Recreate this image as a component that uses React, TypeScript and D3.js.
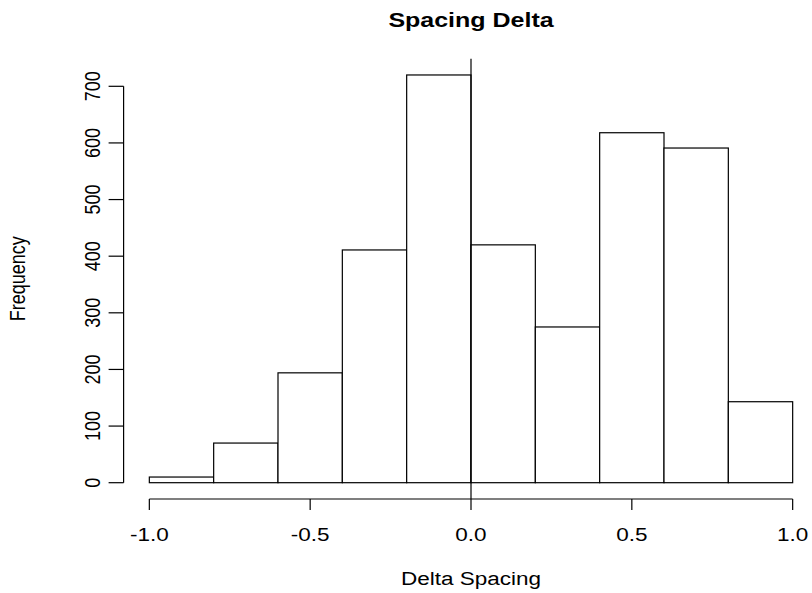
import React from 'react'
import * as d3 from 'd3'

// histogram of spacing delta
const breaks = [-1.0, -0.8, -0.6, -0.4, -0.2, 0.0, 0.2, 0.4, 0.6, 0.8, 1.0]
const counts = [10, 70, 194, 411, 720, 420, 275, 618, 591, 143]
const xTicks = [-1.0, -0.5, 0.0, 0.5, 1.0]
const yTicks = [0, 100, 200, 300, 400, 500, 600, 700]

const W = 812
const H = 593
const SX = 1.25 // the picture is stretched sideways
const FONT = 'Liberation Sans, Arial, Helvetica, sans-serif'

const App = () => {
    const x = d3.scaleLinear().domain([-1.08, 1.08]).range([123.6, 818.4])
    const y = d3.scaleLinear().domain([0, 700]).range([482.7, 86.3])

    const plotTop = y(748.8)
    const plotBottom = y(-28.8)
    const left = x(-1.08)

    const bins = counts.map((c, i) => ({ x0: breaks[i], x1: breaks[i + 1], n: c }))
    const fmt = (t: number) => t.toFixed(1) // plain hyphen for negatives, like R

    const hText = (tx: number, ty: number, txt: string, size: number, bold = false) => (
        <text
            key={txt + tx + ty}
            transform={`translate(${tx},${ty}) scale(${SX},1)`}
            textAnchor="middle"
            fontSize={size}
            fontWeight={bold ? 'bold' : 'normal'}
        >
            {txt}
        </text>
    )

    const vText = (tx: number, ty: number, txt: string, size: number) => (
        <text
            key={txt + tx + ty}
            transform={`translate(${tx},${ty}) scale(${SX},1) rotate(-90)`}
            textAnchor="middle"
            fontSize={size}
        >
            {txt}
        </text>
    )

    return (
        <div style={{ position: 'absolute', left: 0, top: 0 }}>
            <svg width={W} height={H} style={{ display: 'block', background: '#fff' }} fontFamily={FONT}>
                <g stroke="#000" strokeWidth={1.2} fill="none">
                    {bins.map((b, i) => (
                        <rect
                            key={i}
                            x={x(b.x0)}
                            y={y(b.n)}
                            width={x(b.x1) - x(b.x0)}
                            height={y(0) - y(b.n)}
                            fill="#fff"
                        />
                    ))}
                    {/* zero reference line */}
                    <line x1={x(0)} x2={x(0)} y1={plotTop} y2={plotBottom} />

                    {/* x axis */}
                    <line x1={x(xTicks[0])} x2={x(xTicks[xTicks.length - 1])} y1={plotBottom} y2={plotBottom} />
                    {xTicks.map(t => (
                        <line key={t} x1={x(t)} x2={x(t)} y1={plotBottom} y2={plotBottom + 11} />
                    ))}

                    {/* y axis */}
                    <line x1={left} x2={left} y1={y(yTicks[0])} y2={y(yTicks[yTicks.length - 1])} />
                    {yTicks.map(t => (
                        <line key={t} x1={left - 15} x2={left} y1={y(t)} y2={y(t)} />
                    ))}
                </g>

                {xTicks.map(t => hText(x(t), 541, fmt(t), 18))}
                {yTicks.map(t => vText(100, y(t), String(t), 18))}

                {hText(x(0), 27, 'Spacing Delta', 20, true)}
                {hText(x(0), 585, 'Delta Spacing', 18)}
                {vText(25, (plotTop + plotBottom) / 2, 'Frequency', 18)}
            </svg>
        </div>
    )
}

export default App
